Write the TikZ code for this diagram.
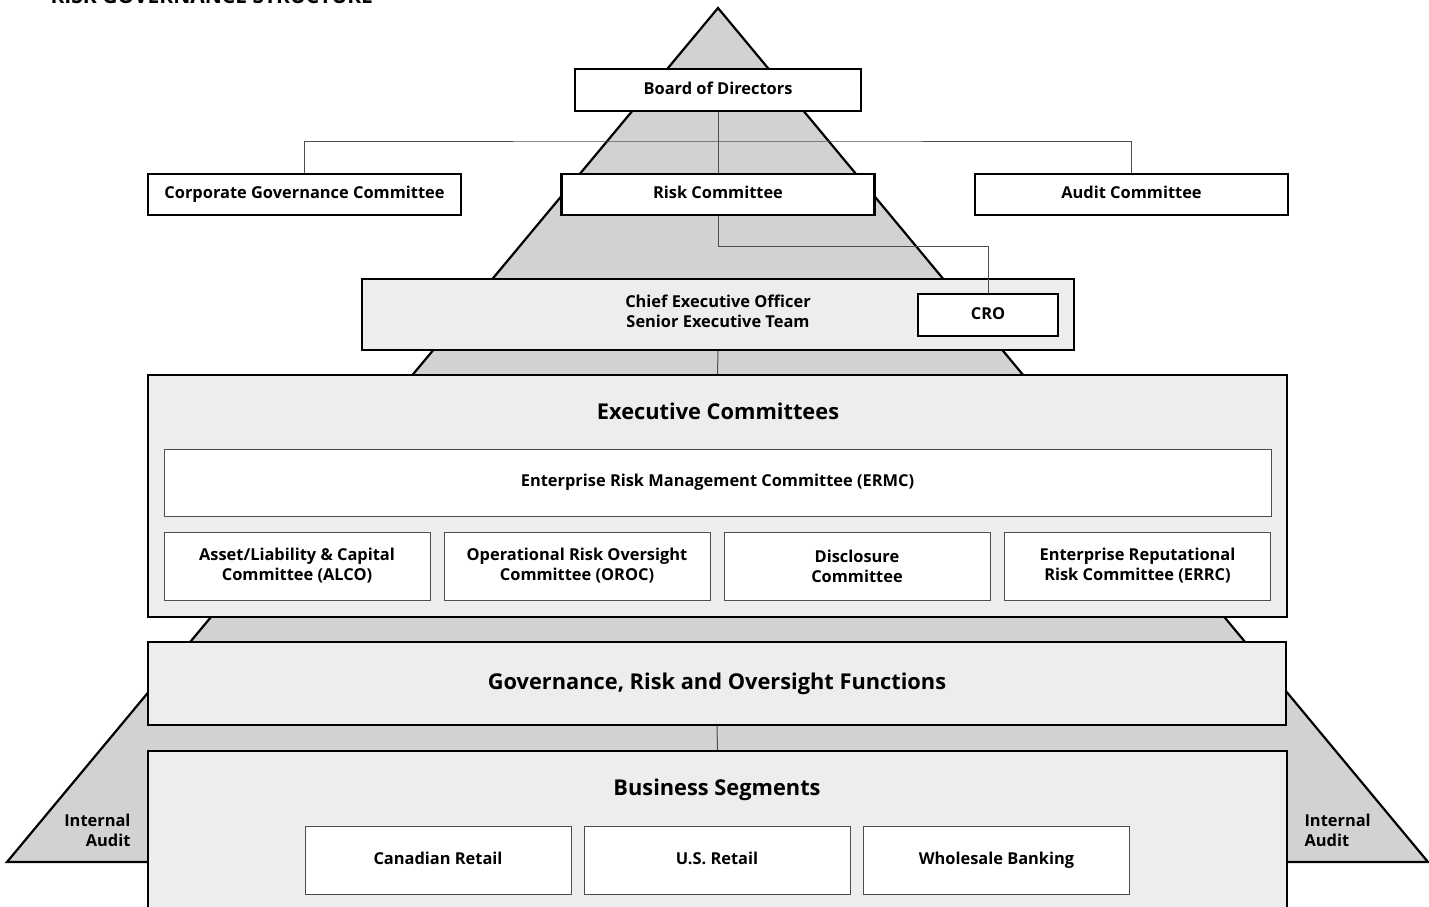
\documentclass[tikz,border=0pt]{standalone}
\usepackage{fontspec}
\setmainfont{Open Sans}
\usetikzlibrary{positioning}

\definecolor{pyramid}{HTML}{D1D2D4}
\definecolor{panel}{HTML}{EDEDED}
\definecolor{rule}{HTML}{4D4D4D}

\tikzset{
  lbl/.style={font=\bfseries\fontsize{16.4}{20}\selectfont, align=center},
  oneline/.style={text height=12pt, text depth=3.5pt},
  headlbl/.style={font=\bfseries\fontsize{21.8}{26}\selectfont, text height=16pt, text depth=4.5pt},
  topbox/.style={draw=black, line width=2.2pt, fill=white, inner sep=0pt, lbl},
  panelbox/.style={draw=black, line width=2.2pt, fill=panel, inner sep=0pt, lbl},
  unitbox/.style={draw=rule, line width=1pt, fill=white, inner sep=0pt, lbl},
  link/.style={draw=rule, line width=1pt}
}

\begin{document}
\begin{tikzpicture}[x=1pt, y=-1pt]
  \useasboundingbox (0,0) rectangle (1429,907);

  % pyramid behind everything
  \draw[line width=2.2pt, fill=pyramid] (718,8) -- (1428,862) -- (7,862) -- cycle;

  \node[anchor=base west, font=\bfseries\fontsize{21}{24}\selectfont] (title) at (47,4) {RISK GOVERNANCE STRUCTURE};

  % board level
  \node[topbox, oneline, minimum width=286pt, minimum height=42pt] (bod) at (718,90) {Board of Directors};
  \node[topbox, oneline, minimum width=313pt, minimum height=41pt] (rc) at (718,194.5) {Risk Committee};
  \node[topbox, oneline, minimum width=313pt, minimum height=41pt] (cgc) at (304.5,194.5) {Corporate Governance Committee};
  \node[topbox, oneline, minimum width=313pt, minimum height=41pt] (ac) at (1131.5,194.5) {Audit Committee};

  % management
  \node[panelbox, minimum width=712pt, minimum height=71pt] (ceo) at (718,314.5) {};
  \node[lbl] (ceotext) at (718,311) {Chief Executive Officer\\Senior Executive Team};
  \node[topbox, oneline, minimum width=140pt, minimum height=42pt] (cro) at (988,315) {CRO};

  % executive committees
  \node[panelbox, minimum width=1139pt, minimum height=242pt] (ec) at (717.5,496) {};
  \node[headlbl] (ectitle) at (718,414) {Executive Committees};
  \node[unitbox, oneline, minimum width=1107pt, minimum height=67pt] (ermc) at (717.5,482.5) {Enterprise Risk Management Committee (ERMC)};
  \node[unitbox, minimum width=266pt, minimum height=68pt] (alco) at (297,566) {Asset/Liability \& Capital\\Committee (ALCO)};
  \node[unitbox, minimum width=266pt, minimum height=68pt] (oroc) at (577,566) {Operational Risk Oversight\\Committee (OROC)};
  \node[unitbox, minimum width=266pt, minimum height=68pt] (disc) at (857,566) {Disclosure\\Committee};
  \node[unitbox, minimum width=266pt, minimum height=68pt] (errc) at (1137.5,566) {Enterprise Reputational\\Risk Committee (ERRC)};

  % oversight functions
  \node[panelbox, headlbl, minimum width=1138pt, minimum height=83pt] (grof) at (717,683.5) {Governance, Risk and Oversight Functions};

  % business segments
  \node[panelbox, minimum width=1139pt, minimum height=174pt] (bs) at (717.5,838) {};
  \node[headlbl] (bstitle) at (717,790) {Business Segments};
  \node[unitbox, oneline, minimum width=266pt, minimum height=68pt] (cr) at (438,860) {Canadian Retail};
  \node[unitbox, oneline, minimum width=266pt, minimum height=68pt] (usr) at (717,860) {U.S. Retail};
  \node[unitbox, oneline, minimum width=266pt, minimum height=68pt] (wb) at (996.5,860) {Wholesale Banking};

  % internal audit
  \node[lbl, align=right, anchor=east] (ialeft) at (134,830) {Internal\\Audit};
  \node[lbl, align=left, anchor=west] (iaright) at (1301,830) {Internal\\Audit};

  % connectors
  \coordinate (split) at (718,141);
  \coordinate (crojog) at (718,246);
  \draw[link] (bod.south) -- (rc.north);
  \draw[link] (cgc.north) |- (split) -| (ac.north);
  \draw[link] (rc.south) -- (crojog) -| (cro.north);
  \draw[link] (ceo.south) -- (ec.north);
  \draw[link] (grof.south) -- (bs.north);
\end{tikzpicture}
\end{document}
